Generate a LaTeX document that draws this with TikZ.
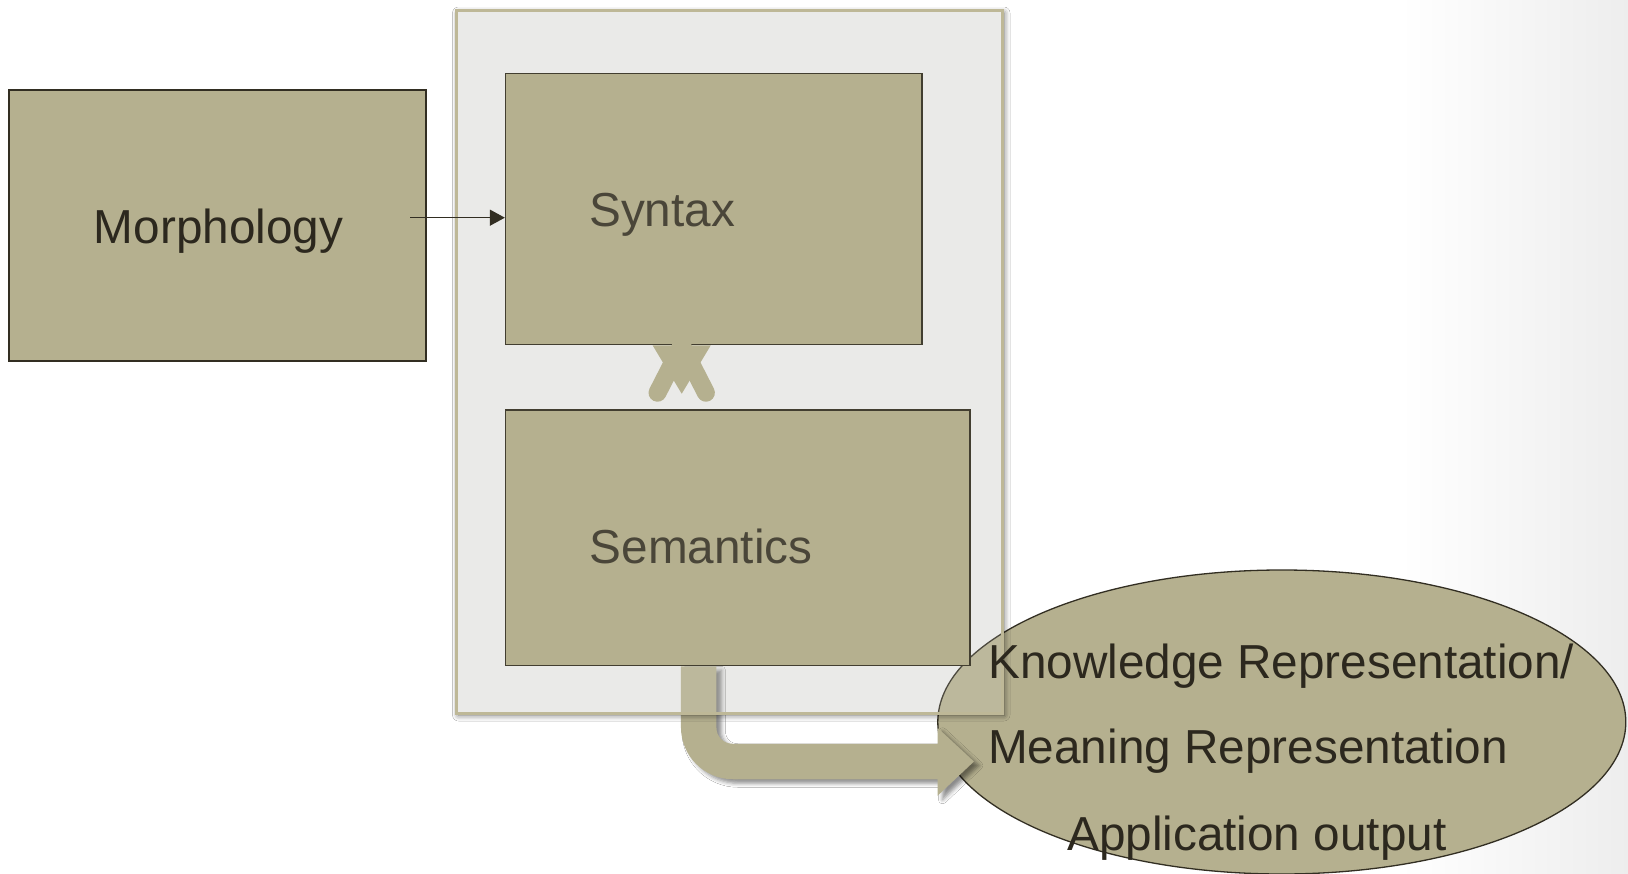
\documentclass[tikz,border=0pt]{standalone}
\usepackage{fontspec}
\setmainfont{Liberation Sans}
\usetikzlibrary{arrows.meta,shapes.geometric,shadows.blur}

\definecolor{tanfill}{RGB}{181,176,143}
\definecolor{boxline}{RGB}{66,62,48}
\definecolor{darkline}{RGB}{50,46,34}
\definecolor{panel}{RGB}{234,234,232}
\definecolor{panelline}{RGB}{190,184,151}
\definecolor{softtext}{RGB}{74,70,57}
\definecolor{darktext}{RGB}{44,40,30}

\begin{document}
\begin{tikzpicture}[x=1pt,y=-1pt,
  stagebox/.style={rectangle, draw=boxline, line width=1.5pt, fill=tanfill, inner sep=0pt},
  lbl/.style={inner sep=0pt, font={\fontsize{47.7}{57}\selectfont}},
  thinarrow/.style={draw=darkline, line width=1.3pt, -{Triangle[length=15pt,width=16pt]}},
  blockshape/.style={fill=tanfill, draw=none}]

\useasboundingbox (0,0) rectangle (1628,874);
\fill[white] (0,0) rectangle (1628,874);
\shade[left color=white, right color=black!7] (1400,0) rectangle (1628,874);

% grey panel holding syntax and semantics
\fill[panel] (456.5,11) rectangle (1002,713);

% output ellipse
\node[ellipse, draw=darkline, line width=1.3pt, fill=tanfill, inner sep=0pt,
      minimum width=688pt, minimum height=304pt] (kr) at (1281.8,722) {};

% semantics box (needed first as anchor for the bent arrow)
\node[stagebox, minimum width=464.2pt, minimum height=255.5pt] (sem) at (737.7,537.75) {};

% bent block arrow from semantics into the ellipse
\coordinate (bendstart) at ([xshift=-39pt]sem.south);
\begin{scope}[shift={(bendstart)}]
  \path[blockshape, blur shadow={shadow xshift=5pt, shadow yshift=-4pt,
        shadow blur radius=4pt, shadow opacity=45}]
    (-17.75,0) -- (-17.75,61)
    .. controls (-17.75,89.7) and (5.55,113) .. (34.25,113)
    -- (238.85,113) -- (238.85,129.5) -- (275.25,95.25)
    -- (238.85,61.5) -- (238.85,77.5) -- (33.75,77.5)
    .. controls (24.95,77.5) and (17.75,70.3) .. (17.75,61.5)
    -- (17.75,0) -- cycle;
\end{scope}

% soft shadow around the panel, kept outside of it
\begin{scope}[even odd rule]
  \clip (0,0) rectangle (1628,874) (456.5,11) rectangle (1002,713);
  \path[blur shadow={shadow xshift=2pt, shadow yshift=-2pt,
        shadow blur radius=6pt, shadow opacity=60}]
    (456.5,11) rectangle (1002,713);
\end{scope}
\draw[panelline, line width=3pt, fill=panel, fill opacity=0.15] (456.5,11) rectangle (1002,713);

% redraw semantics on top of the panel
\node[stagebox, minimum width=464.2pt, minimum height=255.5pt] (sem2) at (sem.center) {};

% morphology and syntax boxes
\node[stagebox, draw=darkline, line width=2pt, minimum width=416.4pt, minimum height=271pt] (morph) at (217.5,225.8) {};
\node[stagebox, minimum width=416.4pt, minimum height=271.2pt] (syn) at (713.8,209.1) {};

% two-way link between syntax and semantics
\coordinate (linktop) at ([xshift=-32.1pt]syn.south);
\begin{scope}[shift={(linktop)}]
  \fill[tanfill] (-29,0) -- (29,0) -- (0,48.3) -- cycle;
  \draw[tanfill, line width=18pt, line cap=round] (-24.2,47.3) -- (0,0) -- (24.2,47.3);
\end{scope}

% thin arrow from morphology to syntax
\coordinate (thinstart) at (410,217.7);
\draw[thinarrow] (thinstart) -- (syn.west |- thinstart);

% labels
\node[lbl, text=darktext, anchor=base] (tmorph) at (218.5,243.5) {Morphology};
\node[lbl, text=softtext, anchor=base west] (tsyn) at (589,227) {Syntax};
\node[lbl, text=softtext, anchor=base west] (tsem) at (589.5,563.5) {Semantics};
\node[lbl, text=darktext, anchor=base west] (tkr1) at (988,678) {Knowledge Representation/};
\node[lbl, text=darktext, anchor=base west] (tkr2) at (988,763) {Meaning Representation};
\node[lbl, text=darktext, anchor=base west] (tkr3) at (1067,850) {Application output};
\end{tikzpicture}
\end{document}
